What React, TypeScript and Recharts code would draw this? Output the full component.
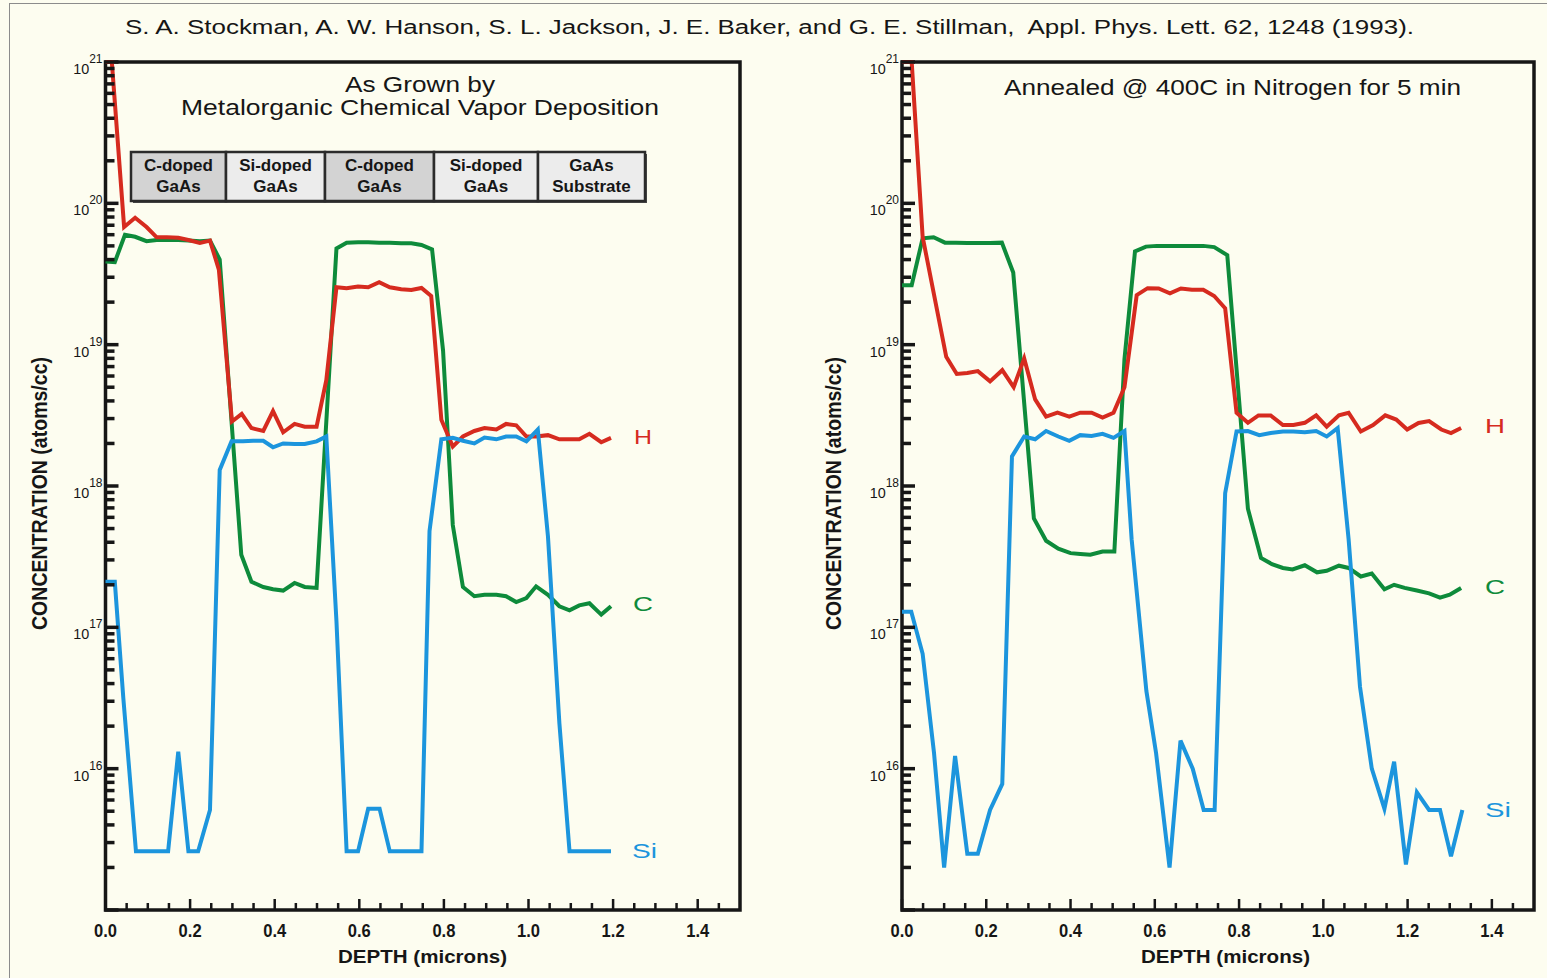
import { LineChart, Line, XAxis, YAxis, ReferenceArea } from 'recharts';

const FONT = '"Liberation Sans", Arial, sans-serif';
const INK = '#161616';
const RED = '#d62b1f';
const GREEN = '#0e8b3b';
const BLUE = '#1c95dd';

const citation =
  'S. A. Stockman, A. W. Hanson, S. L. Jackson, J. E. Baker, and G. E. Stillman,  Appl. Phys. Lett. 62, 1248 (1993).';

// x axis ticks (microns), every 0.05, labels on the 0.2 ones
const xTicks = [
  0, 0.05, 0.1, 0.15, 0.2, 0.25, 0.3, 0.35, 0.4, 0.45, 0.5, 0.55, 0.6, 0.65, 0.7, 0.75, 0.8, 0.85, 0.9,
  0.95, 1.0, 1.05, 1.1, 1.15, 1.2, 1.25, 1.3, 1.35, 1.4, 1.45,
];
const decades = [15, 16, 17, 18, 19, 20];
const multipliers = [1, 2, 3, 4, 5, 6, 7, 8, 9];
const yTicks = [...decades.flatMap((e) => multipliers.map((m) => m * 10 ** e)), 1e21];

const layers = ['C-doped\nGaAs', 'Si-doped\nGaAs', 'C-doped\nGaAs', 'Si-doped\nGaAs', 'GaAs\nSubstrate'];

// ---- as grown ----
const grownHDepth = [
  0, 0.015, 0.044, 0.07, 0.097, 0.121, 0.145, 0.172, 0.196, 0.223, 0.247, 0.268, 0.299, 0.322, 0.345,
  0.373, 0.396, 0.42, 0.447, 0.471, 0.499, 0.522, 0.546, 0.57, 0.597, 0.621, 0.647, 0.672, 0.699, 0.723,
  0.747, 0.77, 0.794, 0.821, 0.845, 0.872, 0.896, 0.924, 0.947, 0.971, 0.995, 1.018, 1.046, 1.073, 1.097,
  1.12, 1.144, 1.172, 1.195,
];
const grownH = [
  1e21, 1e21, 6.8e19, 7.9e19, 6.8e19, 5.75e19, 5.75e19, 5.7e19, 5.5e19, 5.25e19, 5.45e19, 3.4e19, 2.86e18,
  3.24e18, 2.57e18, 2.45e18, 3.39e18, 2.4e18, 2.75e18, 2.63e18, 2.63e18, 5.6e18, 2.55e19, 2.51e19, 2.58e19,
  2.55e19, 2.77e19, 2.55e19, 2.47e19, 2.44e19, 2.52e19, 2.21e19, 2.94e18, 1.9e18, 2.24e18, 2.45e18, 2.57e18,
  2.51e18, 2.75e18, 2.69e18, 2.24e18, 2.24e18, 2.29e18, 2.14e18, 2.14e18, 2.14e18, 2.34e18, 2.04e18, 2.19e18,
];

const grownCDepth = [
  0, 0.022, 0.046, 0.07, 0.097, 0.121, 0.145, 0.172, 0.196, 0.223, 0.247, 0.27, 0.321, 0.345, 0.373, 0.396,
  0.42, 0.447, 0.471, 0.499, 0.546, 0.57, 0.597, 0.621, 0.647, 0.672, 0.699, 0.723, 0.747, 0.772, 0.798,
  0.821, 0.845, 0.872, 0.896, 0.924, 0.947, 0.971, 0.995, 1.018, 1.046, 1.073, 1.097, 1.12, 1.144, 1.172,
  1.195,
];
const grownC = [
  3.87e19, 3.84e19, 6.0e19, 5.8e19, 5.4e19, 5.5e19, 5.5e19, 5.5e19, 5.45e19, 5.4e19, 5.45e19, 4.0e19, 3.26e17,
  2.1e17, 1.93e17, 1.86e17, 1.82e17, 2.06e17, 1.93e17, 1.9e17, 4.8e19, 5.27e19, 5.3e19, 5.3e19, 5.27e19,
  5.27e19, 5.22e19, 5.22e19, 5.08e19, 4.73e19, 9.1e18, 5.3e17, 1.93e17, 1.66e17, 1.7e17, 1.7e17, 1.66e17,
  1.51e17, 1.61e17, 1.95e17, 1.7e17, 1.41e17, 1.32e17, 1.43e17, 1.48e17, 1.23e17, 1.41e17,
];

const grownSiDepth = [
  0, 0.022, 0.042, 0.072, 0.097, 0.121, 0.148, 0.172, 0.196, 0.219, 0.247, 0.27, 0.298, 0.325, 0.349, 0.373,
  0.396, 0.42, 0.447, 0.471, 0.499, 0.522, 0.546, 0.57, 0.597, 0.621, 0.648, 0.672, 0.697, 0.722, 0.747,
  0.766, 0.794, 0.821, 0.845, 0.872, 0.896, 0.924, 0.947, 0.971, 0.995, 1.022, 1.046, 1.073, 1.097, 1.122,
  1.147, 1.172, 1.195,
];
const grownSi = [
  2.1e17, 2.1e17, 3.2e16, 2.6e15, 2.6e15, 2.6e15, 2.6e15, 1.32e16, 2.6e15, 2.6e15, 5.1e15, 1.3e18, 2.07e18,
  2.07e18, 2.09e18, 2.09e18, 1.88e18, 2.0e18, 1.98e18, 1.98e18, 2.07e18, 2.24e18, 1.1e17, 2.6e15, 2.6e15,
  5.2e15, 5.2e15, 2.6e15, 2.6e15, 2.6e15, 2.6e15, 4.8e17, 2.14e18, 2.19e18, 2.09e18, 2.0e18, 2.2e18, 2.14e18,
  2.24e18, 2.24e18, 2.07e18, 2.51e18, 4.4e17, 2.1e16, 2.6e15, 2.6e15, 2.6e15, 2.6e15, 2.6e15,
];

// ---- annealed 400C ----
const annealHDepth = [
  0, 0.023, 0.049, 0.105, 0.13, 0.155, 0.18, 0.209, 0.238, 0.265, 0.29, 0.316, 0.342, 0.369, 0.397, 0.423,
  0.45, 0.476, 0.502, 0.528, 0.557, 0.583, 0.609, 0.636, 0.662, 0.688, 0.715, 0.741, 0.767, 0.794, 0.821,
  0.846, 0.875, 0.904, 0.929, 0.956, 0.983, 1.008, 1.037, 1.06, 1.089, 1.118, 1.147, 1.173, 1.199, 1.226,
  1.251, 1.28, 1.303, 1.327,
];
const annealH = [
  1e21, 1e21, 5.8e19, 8.2e18, 6.2e18, 6.3e18, 6.5e18, 5.5e18, 6.6e18, 5.0e18, 8.0e18, 4.1e18, 3.1e18, 3.3e18,
  3.1e18, 3.3e18, 3.3e18, 3.05e18, 3.3e18, 5.0e18, 2.24e19, 2.51e19, 2.5e19, 2.31e19, 2.5e19, 2.45e19,
  2.45e19, 2.21e19, 1.81e19, 3.3e18, 2.8e18, 3.16e18, 3.16e18, 2.7e18, 2.7e18, 2.8e18, 3.16e18, 2.63e18,
  3.16e18, 3.3e18, 2.43e18, 2.7e18, 3.16e18, 2.95e18, 2.51e18, 2.79e18, 2.88e18, 2.51e18, 2.37e18, 2.57e18,
];

const annealCDepth = [
  0, 0.023, 0.049, 0.075, 0.102, 0.128, 0.155, 0.181, 0.209, 0.237, 0.264, 0.313, 0.342, 0.371, 0.4, 0.423,
  0.447, 0.476, 0.504, 0.528, 0.553, 0.579, 0.605, 0.636, 0.662, 0.688, 0.715, 0.741, 0.772, 0.821, 0.852,
  0.878, 0.904, 0.927, 0.956, 0.985, 1.008, 1.037, 1.06, 1.089, 1.115, 1.145, 1.168, 1.193, 1.222, 1.251,
  1.277, 1.3, 1.327,
];
const annealC = [
  2.63e19, 2.63e19, 5.66e19, 5.75e19, 5.27e19, 5.27e19, 5.25e19, 5.25e19, 5.25e19, 5.27e19, 3.24e19, 5.9e17,
  4.1e17, 3.6e17, 3.35e17, 3.3e17, 3.26e17, 3.44e17, 3.44e17, 7.9e18, 4.57e19, 4.94e19, 5.0e19, 5.0e19,
  5.0e19, 5.0e19, 5.0e19, 4.9e19, 4.3e19, 6.9e17, 3.1e17, 2.8e17, 2.63e17, 2.57e17, 2.75e17, 2.45e17,
  2.51e17, 2.73e17, 2.63e17, 2.29e17, 2.4e17, 1.86e17, 2.0e17, 1.9e17, 1.82e17, 1.74e17, 1.62e17, 1.7e17,
  1.9e17,
];

const annealSiDepth = [
  0, 0.022, 0.049, 0.076, 0.1, 0.126, 0.155, 0.18, 0.209, 0.238, 0.261, 0.29, 0.316, 0.342, 0.371, 0.397,
  0.423, 0.45, 0.476, 0.502, 0.528, 0.545, 0.58, 0.603, 0.635, 0.661, 0.69, 0.716, 0.742, 0.767, 0.794,
  0.821, 0.848, 0.875, 0.904, 0.929, 0.956, 0.983, 1.008, 1.034, 1.06, 1.087, 1.115, 1.145, 1.168, 1.196,
  1.222, 1.251, 1.277, 1.303, 1.33,
];
const annealSi = [
  1.29e17, 1.29e17, 6.5e16, 1.29e16, 2.0e15, 1.23e16, 2.5e15, 2.5e15, 5.1e15, 7.8e15, 1.62e18, 2.24e18,
  2.14e18, 2.45e18, 2.24e18, 2.09e18, 2.29e18, 2.26e18, 2.34e18, 2.19e18, 2.45e18, 4.2e17, 3.55e16, 1.29e16,
  2.0e15, 1.58e16, 1.0e16, 5.1e15, 5.1e15, 8.9e17, 2.43e18, 2.45e18, 2.29e18, 2.37e18, 2.43e18, 2.43e18,
  2.4e18, 2.45e18, 2.24e18, 2.57e18, 4.2e17, 3.8e16, 1.0e16, 5.2e15, 1.12e16, 2.1e15, 6.8e15, 5.1e15, 5.1e15,
  2.4e15, 5.1e15,
];

const toRows = (d: number[], v: number[]) => d.map((x, i) => ({ d: x, v: v[i] }));

function XTick(props: any) {
  const { x, y, payload } = props;
  const major = Math.round(payload.value * 20) % 4 === 0;
  return (
    <g>
      <line x1={x} x2={x} y1={y} y2={y - (major ? 11 : 7)} stroke={INK} strokeWidth={2.5} />
      {major && (
        <text
          x={x}
          y={y + 27}
          textAnchor="middle"
          fontFamily={FONT}
          fontWeight="bold"
          fontSize={18}
          fill={INK}
          textLength={23}
          lengthAdjust="spacingAndGlyphs"
        >
          {payload.value.toFixed(1)}
        </text>
      )}
    </g>
  );
}

function YTick(props: any) {
  const { x, y, payload } = props;
  const e = Math.log10(payload.value);
  const exp = Math.round(e);
  const major = Math.abs(e - exp) < 1e-6;
  return (
    <g>
      <line x1={x - 1} x2={x + (major ? 13 : 9)} y1={y} y2={y} stroke={INK} strokeWidth={3.5} />
      {major && exp > 15 && (
        <text x={x - 3} y={y + 12} textAnchor="end" fontFamily={FONT} fontSize={15} fill={INK}>
          <tspan textLength={16} lengthAdjust="spacingAndGlyphs">10</tspan>
          <tspan dy={-11} fontSize={12}>
            {exp}
          </tspan>
        </text>
      )}
    </g>
  );
}

type Series = { rows: { d: number; v: number }[]; color: string; name: string };

function Panel({ width, left, right, series }: { width: number; left: number; right: number; series: Series[] }) {
  return (
    <LineChart width={width} height={978} margin={{ top: 62, left: left - 60, right, bottom: 38 }}>
      <XAxis
        dataKey="d"
        type="number"
        domain={[0, 1.5]}
        ticks={xTicks}
        interval={0}
        height={30}
        tickSize={0}
        tickMargin={0}
        axisLine={false}
        tick={<XTick />}
      />
      <YAxis
        type="number"
        scale="log"
        domain={[1e15, 1e21]}
        ticks={yTicks}
        interval={0}
        width={60}
        tickSize={0}
        tickMargin={0}
        axisLine={false}
        tick={<YTick />}
      />
      <ReferenceArea x1={0} x2={1.5} y1={1e15} y2={1e21} fill="none" stroke={INK} strokeWidth={3.5} />
      {series.map((s) => (
        <Line
          key={s.name}
          data={s.rows}
          dataKey="v"
          name={s.name}
          type="linear"
          stroke={s.color}
          strokeWidth={4}
          dot={false}
          isAnimationActive={false}
        />
      ))}
    </LineChart>
  );
}

function Stretch({ x, y, w, size, bold, fill = INK, children, anchor = 'start' }: any) {
  return (
    <text
      x={x}
      y={y}
      fontFamily={FONT}
      fontSize={size}
      fontWeight={bold ? 'bold' : 'normal'}
      fill={fill}
      textAnchor={anchor}
      textLength={w}
      lengthAdjust="spacingAndGlyphs"
      style={{ whiteSpace: 'pre' }}
    >
      {children}
    </text>
  );
}

const cellEdges = [131, 226, 325, 434, 538, 645];

export default function App() {
  const grown: Series[] = [
    { rows: toRows(grownCDepth, grownC), color: GREEN, name: 'C' },
    { rows: toRows(grownHDepth, grownH), color: RED, name: 'H' },
    { rows: toRows(grownSiDepth, grownSi), color: BLUE, name: 'Si' },
  ];
  const annealed: Series[] = [
    { rows: toRows(annealCDepth, annealC), color: GREEN, name: 'C' },
    { rows: toRows(annealHDepth, annealH), color: RED, name: 'H' },
    { rows: toRows(annealSiDepth, annealSi), color: BLUE, name: 'Si' },
  ];

  return (
    <div
      style={{ position: 'absolute', left: 0, top: 0, width: 1547, height: 978, background: '#fdfdf0', overflow: 'hidden' }}
    >
      <div style={{ position: 'absolute', left: 0, top: 0 }}>
        <Panel width={773} left={105.5} right={33} series={grown} />
      </div>
      <div style={{ position: 'absolute', left: 773, top: 0 }}>
        <Panel width={774} left={129} right={13} series={annealed} />
      </div>

      <svg width={1547} height={978} style={{ position: 'absolute', left: 0, top: 0, pointerEvents: 'none' }}>
        <rect x={9.5} y={3.5} width={1600} height={1000} fill="none" stroke="#8c8c8c" strokeWidth={1} />

        <Stretch x={125} y={33.5} w={1289} size={19.5}>
          {citation}
        </Stretch>

        <Stretch x={345} y={91.5} w={150} size={21.5}>
          As Grown by
        </Stretch>
        <Stretch x={181} y={115} w={478} size={21.5}>
          Metalorganic Chemical Vapor Deposition
        </Stretch>
        <Stretch x={1004} y={95} w={457} size={21.5}>
          Annealed @ 400C in Nitrogen for 5 min
        </Stretch>

        {/* layer stack */}
        <rect x={133} y={154} width={514} height={49} fill="#4a4a4a" />
        {layers.map((label, i) => {
          const x0 = cellEdges[i];
          const x1 = cellEdges[i + 1];
          const [l1, l2] = label.split('\n');
          const cx = (x0 + x1) / 2;
          return (
            <g key={i}>
              <rect
                x={x0}
                y={152}
                width={x1 - x0}
                height={49}
                fill={l1 === 'C-doped' ? '#d3d3d3' : '#ececec'}
                stroke="#2b2b2b"
                strokeWidth={2.5}
              />
              <text x={cx} y={171} textAnchor="middle" fontFamily={FONT} fontWeight="bold" fontSize={17} fill={INK}>
                {l1}
              </text>
              <text x={cx} y={192} textAnchor="middle" fontFamily={FONT} fontWeight="bold" fontSize={17} fill={INK}>
                {l2}
              </text>
            </g>
          );
        })}

        {/* series names */}
        <Stretch x={634} y={444} w={18} size={21} fill={RED}>H</Stretch>
        <Stretch x={633} y={611} w={20} size={21} fill={GREEN}>C</Stretch>
        <Stretch x={632} y={858} w={25} size={21} fill={BLUE}>Si</Stretch>
        <Stretch x={1485} y={433} w={20} size={21} fill={RED}>H</Stretch>
        <Stretch x={1485} y={594} w={20} size={21} fill={GREEN}>C</Stretch>
        <Stretch x={1485} y={817} w={26} size={21} fill={BLUE}>Si</Stretch>

        {/* axis titles */}
        <Stretch x={338} y={962.5} w={169} size={18} bold>
          DEPTH (microns)
        </Stretch>
        <Stretch x={1141} y={963} w={169} size={18} bold>
          DEPTH (microns)
        </Stretch>
        {[47, 841].map((bx) => (
          <text
            key={bx}
            transform={`translate(${bx},493.5) scale(1.2,1) rotate(-90)`}
            textAnchor="middle"
            fontFamily={FONT}
            fontWeight="bold"
            fontSize={18}
            fill={INK}
            textLength={273}
            lengthAdjust="spacingAndGlyphs"
          >
            CONCENTRATION (atoms/cc)
          </text>
        ))}
      </svg>
    </div>
  );
}
